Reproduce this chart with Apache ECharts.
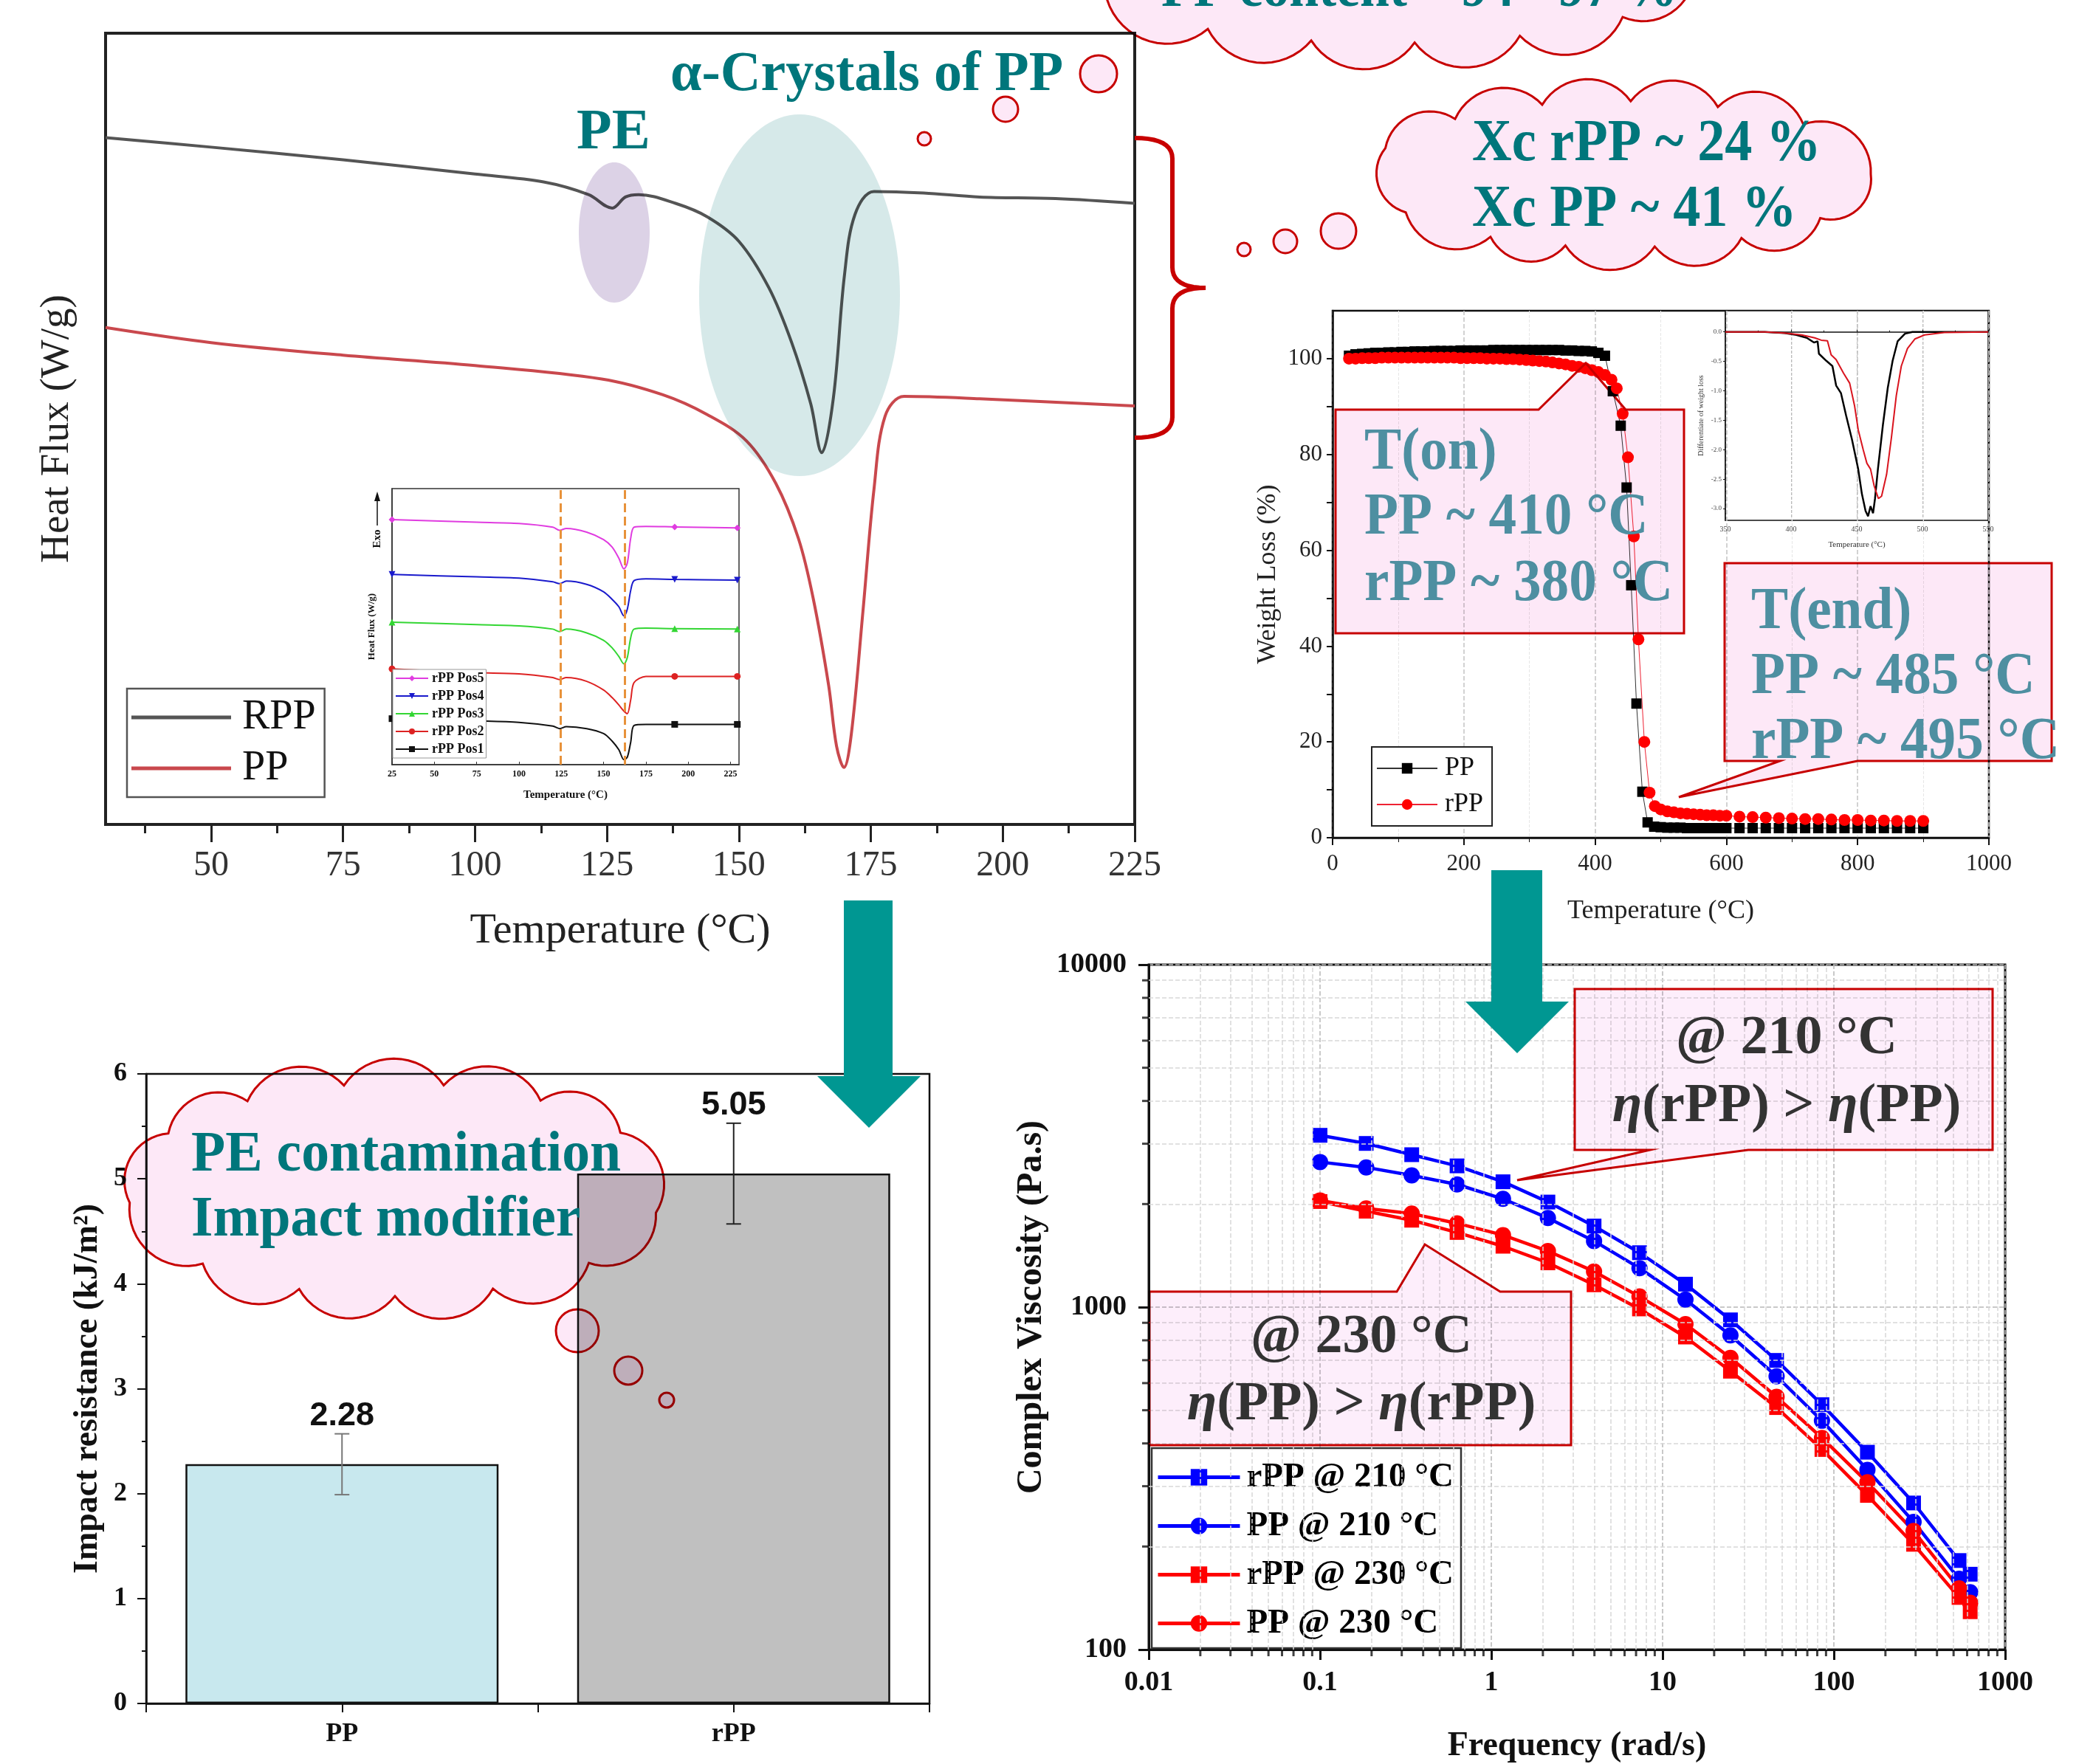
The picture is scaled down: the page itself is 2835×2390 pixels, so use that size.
<!DOCTYPE html>
<html><head><meta charset="utf-8"><title>PP vs rPP</title>
<script src="https://cdn.jsdelivr.net/npm/echarts@6.0.0/dist/echarts.min.js"></script>
<style>html,body{margin:0;padding:0;background:#fff;}#chart{width:2835px;height:2390px;}</style>
</head><body><div id="chart"></div>
<script>
// ---------------- DSC (main) ----------------
const dscRppTemp = [30,50,75,100,113,121.5,126,128.5,131,138,144,150,155.7,160,163.6,165.7,167.9,170,172,175.6,185,195.6,210,225];
const dscRppFlux = [8.68,8.56,8.40,8.22,8.12,7.96,7.79,7.93,7.96,7.85,7.68,7.37,6.78,6.09,5.32,4.70,5.39,6.94,7.71,8.00,7.98,7.93,7.91,7.85];
const dscPpTemp = [30,50,75,100,124,135.6,144,151.4,157,161.3,164.1,167,168.5,169.9,171.3,173.5,175.6,177.7,181.3,195.6,225];
const dscPpFlux = [6.28,6.09,5.93,5.80,5.63,5.43,5.18,4.85,4.31,3.61,2.85,1.76,0.99,0.72,1.14,2.69,4.24,5.16,5.41,5.38,5.29];
const dscTickLabels = [50,75,100,125,150,175,200,225];
const dscMinorTicks = [37.5,62.5,87.5,112.5,137.5,162.5,187.5,212.5];

// ---------------- DSC (inset, rPP positions) ----------------
const insetTemp = [25,75,100,120,124,128,140,150,155,159,162,164,166,168,175,192,229];
const insetPos5 = [9.85,9.75,9.70,9.55,9.42,9.50,9.35,9.05,8.75,8.30,7.87,8.10,9.10,9.55,9.58,9.56,9.52];
const insetPos4 = [7.65,7.55,7.50,7.35,7.28,7.38,7.25,6.95,6.65,6.35,5.98,6.25,7.00,7.40,7.47,7.45,7.42];
const insetPos3 = [5.73,5.63,5.58,5.45,5.35,5.45,5.30,5.00,4.70,4.35,4.05,4.30,5.10,5.45,5.49,5.47,5.45];
const insetPos2 = [3.85,3.70,3.65,3.50,3.42,3.50,3.35,3.00,2.70,2.40,2.15,2.05,2.60,3.30,3.55,3.55,3.55];
const insetPos1 = [1.85,1.76,1.70,1.55,1.45,1.53,1.45,1.25,0.95,0.60,0.20,0.30,0.90,1.58,1.62,1.62,1.62];
const insetMarkerIdx = [0,15,16];
const insetTickLabels = [25,50,75,100,125,150,175,200,225];
const insetPeakTemps = [124.5,162.5];

// ---------------- TGA ----------------
const tgaPpTemp = [25,35,45,55,65,75,85,95,105,115,125,135,145,155,165,175,185,195,205,215,225,235,245,255,265,275,285,295,305,315,325,335,345,355,365,375,385,395,405,415,427,439,448,455,463,472,480,490,500,510,520,530,540,550,560,570,580,590,600,620,640,660,680,700,720,740,760,780,800,820,840,860,880,900];
const tgaPpWeight = [100.6,100.9,101.0,101.1,101.2,101.2,101.3,101.3,101.4,101.4,101.5,101.5,101.5,101.6,101.6,101.6,101.6,101.7,101.7,101.7,101.7,101.7,101.8,101.8,101.8,101.8,101.8,101.8,101.8,101.8,101.8,101.8,101.8,101.7,101.7,101.6,101.6,101.5,101.2,100.6,93.2,86.0,73.1,52.7,28.0,9.6,3.2,2.3,2.2,2.1,2.1,2.1,2.0,2.0,2.0,2.0,2.0,2.0,2.0,2.0,2.0,2.0,2.0,2.0,2.0,2.0,2.0,2.0,2.0,2.0,2.0,2.0,2.0,2.0];
const tgaRppTemp = [25,35,45,55,65,75,85,95,105,115,125,135,145,155,165,175,185,195,205,215,225,235,245,255,265,275,285,295,305,315,325,335,345,355,365,375,385,395,405,415,425,433,442,450,459,466,475,483,491,500,510,520,530,540,550,560,570,580,590,600,620,640,660,680,700,720,740,760,780,800,820,840,860,880,900];
const tgaRppWeight = [100.0,100.0,100.1,100.1,100.1,100.2,100.2,100.2,100.2,100.2,100.2,100.2,100.2,100.2,100.2,100.2,100.2,100.1,100.1,100.1,100.1,100.0,100.0,100.0,99.9,99.9,99.8,99.7,99.6,99.5,99.4,99.2,99.0,98.8,98.5,98.3,98.0,97.6,97.2,96.6,95.6,93.8,88.5,79.4,62.9,41.4,20.0,9.4,6.6,5.9,5.5,5.3,5.1,5.0,4.9,4.8,4.7,4.7,4.6,4.6,4.4,4.3,4.2,4.1,4.0,3.9,3.9,3.8,3.7,3.7,3.6,3.6,3.5,3.5,3.5];
const tgaWeightTicks = [0,20,40,60,80,100];

// ---------------- DTG inset ----------------
const dtgPpTemp = [350,380,395,404,412,417.4,420.2,421.2,426.8,431.5,434.3,438,441.8,446.4,451.1,453.9,456.7,458.6,460.5,462.4,463.9,466.1,469.9,473.6,477.3,481.1,486.7,492.3,520,550];
const dtgPpRate = [0,0,-0.02,-0.05,-0.10,-0.18,-0.16,-0.37,-0.49,-0.58,-0.91,-1.04,-1.41,-1.83,-2.33,-2.75,-3.04,-3.13,-2.96,-3.08,-2.83,-2.33,-1.58,-0.95,-0.49,-0.16,-0.03,0,0,0];
const dtgRppTemp = [350,380,395,408,418,423,427.7,430.5,434.3,439.9,444.6,448.3,451.1,454.9,457.7,460.5,463.3,466.5,468.9,472.7,476.4,480.1,483.9,488.6,494.2,501.7,516.7,550];
const dtgRppRate = [0,0,-0.02,-0.05,-0.10,-0.14,-0.15,-0.39,-0.47,-0.70,-0.87,-1.25,-1.66,-2.00,-2.23,-2.33,-2.62,-2.83,-2.79,-2.42,-1.79,-1.08,-0.58,-0.28,-0.12,-0.05,-0.01,0];
const dtgRateTicks = [0,-0.5,-1.0,-1.5,-2.0,-2.5,-3.0];

// ---------------- Impact ----------------
const impactCats = ['PP','rPP'];
const impactVals = [2.28,5.05];
const impactErrLow = [1.99,4.57];
const impactErrHigh = [2.57,5.53];

// ---------------- Viscosity ----------------
const freq = [0.1,0.186,0.343,0.631,1.17,2.14,3.98,7.33,13.6,24.9,46.3,85.2,157,292,538,625];
const visRpp210 = [3175,3006,2787,2585,2323,2027,1725,1442,1167,918,699,519,377,268,182,166];
const visPp210 = [2653,2559,2425,2282,2071,1820,1560,1300,1052,827,628,466,335,236,161,147];
const visRpp230 = [2034,1906,1794,1652,1506,1347,1162,988,818,650,509,384,282,203,142,129];
const visPp230 = [2049,1942,1875,1757,1623,1458,1271,1074,892,711,547,415,308,222,151,137];

// =====================================================
const SERIF = "'Liberation Serif','Times New Roman',Times,serif";
const SANS = "'Liberation Sans',Arial,Helvetica,sans-serif";
const TEAL = '#00767b', STEEL = '#4e8fa1', PINK = '#fde8f7', EDGE = '#c80000', ARROW = '#009792';
const zip = (a,b) => a.map((v,i)=>[v,b[i]]);
const logMinor = (lo,hi) => { const r=[]; for(let e=lo;e<hi;e++) for(let m=2;m<=9;m++) r.push(+(m*Math.pow(10,e)).toPrecision(3)); return r; };

function cloudPts(cx,cy,rx,ry,fr,k){
  const N=720,P=[],cum=[0];
  for(let i=0;i<=N;i++){const t=2*Math.PI*i/N;P.push([cx+rx*Math.cos(t),cy+ry*Math.sin(t)]);if(i>0)cum.push(cum[i-1]+Math.hypot(P[i][0]-P[i-1][0],P[i][1]-P[i-1][1]));}
  const tot=cum[N];
  const A=fr.map(f=>{const L=f*tot;let j=0;while(j<N&&cum[j+1]<L)j++;return P[j];});
  const out=[];
  for(let i=0;i<A.length;i++){
    const a=A[i],b=A[(i+1)%A.length];
    const c=Math.hypot(b[0]-a[0],b[1]-a[1]),r=k*c;
    const dx=(b[0]-a[0])/c,dy=(b[1]-a[1])/c,nx=dy,ny=-dx;
    const m=[(a[0]+b[0])/2,(a[1]+b[1])/2],h=Math.sqrt(r*r-c*c/4);
    const o=[m[0]-nx*h,m[1]-ny*h];
    const a0=Math.atan2(a[1]-o[1],a[0]-o[0]);let d=Math.atan2(b[1]-o[1],b[0]-o[0])-a0;
    while(d>Math.PI)d-=2*Math.PI;while(d<=-Math.PI)d+=2*Math.PI;
    for(let s=0;s<16;s++){const t=a0+d*s/16;out.push([o[0]+r*Math.cos(t),o[1]+r*Math.sin(t)]);}
  }
  return out;
}
function quad(p0,p1,p2,n){const r=[];for(let i=0;i<=n;i++){const t=i/n,u=1-t;r.push([u*u*p0[0]+2*u*t*p1[0]+t*t*p2[0],u*u*p0[1]+2*u*t*p1[1]+t*t*p2[1]]);}return r;}

const gfx=[];
const ell=(cx,cy,rx,ry,fill)=>gfx.push({type:'ellipse',shape:{cx,cy,rx,ry},style:{fill,blend:'multiply'},z:50,silent:true});
const circ=(cx,cy,r)=>gfx.push({type:'circle',shape:{cx,cy,r},style:{fill:PINK,stroke:EDGE,lineWidth:3,blend:'multiply'},z:50,silent:true});
const poly=(points,extra)=>gfx.push({type:'polygon',shape:{points},style:Object.assign({fill:PINK,stroke:EDGE,lineWidth:3,blend:'multiply'},extra||{}),z:50,silent:true});
const txt=(x,y,text,size,color,extra,el)=>gfx.push(Object.assign({type:'text',x,y,style:Object.assign({text,fill:color,fontSize:size,fontFamily:SERIF,fontWeight:'bold',textAlign:'left',textVerticalAlign:'middle',align:'left',verticalAlign:'middle'},extra||{}),z:60,silent:true},el||{}));

// DSC highlight ellipses
ell(832,315,48,95,'#dcd2e6');
ell(1083,400,136,245,'#d6e9e9');
// thought bubbles near alpha-crystals
circ(1488,100,25); circ(1362,148,17); circ(1252,188,9);
// brace
let brace=[].concat(quad([1537,187],[1588,187],[1588,215],10),[[1588,362]],quad([1588,362],[1588,390],[1633,390],10),quad([1633,390],[1588,390],[1588,418],10),[[1588,565]],quad([1588,565],[1588,593],[1537,593],10));
gfx.push({type:'polyline',shape:{points:brace},style:{stroke:EDGE,lineWidth:6,fill:null},z:50,silent:true});
// clouds
poly(cloudPts(1880,-40,415,98,[0,0.07,0.15,0.23,0.31,0.39,0.47,0.55,0.63,0.71,0.79,0.87,0.94],0.6));
poly(cloudPts(2194,236,340,99,[0,0.065,0.14,0.22,0.30,0.37,0.45,0.53,0.60,0.68,0.76,0.84,0.92],0.6));
circ(1813,313,24); circ(1741,327,16); circ(1685,338,9);
poly(cloudPts(535,1612,362,144,[0.02,0.09,0.17,0.25,0.33,0.41,0.49,0.56,0.63,0.71,0.79,0.87,0.94],0.6));
circ(782,1803,29); circ(851,1857,19); circ(903,1897,10);
// callout boxes
poly([[1809,555],[2084,555],[2148,492],[2202,555],[2281,555],[2281,858],[1809,858]]);
poly([[2336,763],[2779,763],[2779,1031],[2516,1031],[2274,1080],[2411,1031],[2336,1031]]);
poly([[2133,1340],[2699,1340],[2699,1558],[2368,1558],[2055,1599],[2235,1558],[2133,1558]],{fill:'#fdeefb'});
poly([[1557,1750],[1892,1750],[1930,1686],[2032,1750],[2128,1750],[2128,1958],[1557,1958]],{fill:'#fdeefb'});
// arrows
gfx.push({type:'polygon',shape:{points:[[1143,1220],[1209,1220],[1209,1458],[1247,1458],[1177,1528],[1107,1458],[1143,1458]]},style:{fill:ARROW},z:70,silent:true});
gfx.push({type:'polygon',shape:{points:[[2020,1179],[2089,1179],[2089,1357],[2125,1357],[2055,1427],[1985,1357],[2020,1357]]},style:{fill:ARROW},z:70,silent:true});
// annotation texts
const nar={scaleX:0.94};
txt(1573,-12,'PP content ~ 94 - 97 %',78,TEAL,null,{scaleX:0.92});
txt(908,102,'α-Crystals of PP',76,TEAL);
txt(781,181,'PE',78,TEAL);
txt(1994,196,'Xc rPP ~ 24 %',80,TEAL,null,{scaleX:0.93});
txt(1994,285,'Xc PP ~ 41 %',80,TEAL,null,{scaleX:0.93});
txt(1848,614,'T(on)',80,STEEL,null,nar);
txt(1848,702,'PP ~ 410 °C',80,STEEL,null,nar);
txt(1848,792,'rPP ~ 380 °C',80,STEEL,null,nar);
txt(2372,830,'T(end)',80,STEEL,null,nar);
txt(2372,918,'PP ~ 485 °C',80,STEEL,null,nar);
txt(2372,1006,'rPP ~ 495 °C',80,STEEL,null,nar);
txt(259,1566,'PE contamination',78,TEAL,null,{scaleX:0.97});
txt(259,1654,'Impact modifier',78,TEAL,null,{scaleX:0.97});
const rich={i:{fontStyle:'italic',fontWeight:'bold',fontSize:74,fontFamily:SERIF,fill:'#333'}};
txt(2420,1408,'@ 210 °C',74,'#333',{textAlign:'center',align:'center'});
txt(2420,1500,'{i|η}(rPP) > {i|η}(PP)',74,'#333',{textAlign:'center',align:'center',rich});
txt(1844,1813,'@ 230 °C',74,'#333',{textAlign:'center',align:'center'});
txt(1844,1904,'{i|η}(PP) > {i|η}(rPP)',74,'#333',{textAlign:'center',align:'center',rich});
// inset "Exo" arrow
txt(511,730,'Exo',15,'#111',{textAlign:'center',align:'center'},{rotation:Math.PI/2});
gfx.push({type:'line',shape:{x1:511,y1:712,x2:511,y2:676},style:{stroke:'#111',lineWidth:1.5},z:60,silent:true});
gfx.push({type:'polygon',shape:{points:[[511,666],[507,679],[515,679]]},style:{fill:'#111'},z:60,silent:true});

// ---------- helpers for series ----------
const insetSeries = (name,vals,symbol,color)=>({
  name,type:'line',xAxisIndex:2,yAxisIndex:1,symbol,symbolSize:9,showSymbol:true,
  lineStyle:{width:2,color},itemStyle:{color},smooth:0.3,
  data:insetTemp.map((t,i)=>insetMarkerIdx.includes(i)?[t,vals[i]]:{value:[t,vals[i]],symbol:'none'})
});
const xMinor=logMinor(-2,3), yMinor=logMinor(2,4);

const option={
  animation:false,
  backgroundColor:'#fff',
  grid:[
    {left:143,top:45,width:1394,height:1072,show:true,borderColor:'#222',borderWidth:4},
    {left:531,top:662,width:470,height:374,show:true,backgroundColor:'#fff',borderColor:'#333',borderWidth:1.5},
    {left:1805,top:421,width:889,height:714,show:true,borderColor:'#111',borderWidth:2.5},
    {left:2337,top:421,width:356,height:284,show:true,backgroundColor:'#fff',borderColor:'#111',borderWidth:1.5},
    {left:198,top:1455,width:1061,height:853,show:true,borderColor:'#111',borderWidth:2.5},
    {left:1556,top:1307,width:1160,height:933,show:true,borderColor:'#111',borderWidth:3}
  ],
  xAxis:[
    {gridIndex:0,type:'value',min:30,max:225,position:'bottom',
     axisLine:{lineStyle:{color:'#222',width:4}},
     axisTick:{customValues:dscTickLabels,length:24,lineStyle:{width:3,color:'#222'}},
     axisLabel:{customValues:dscTickLabels,fontSize:48,fontFamily:SERIF,color:'#333',margin:32},
     splitLine:{show:false},
     name:'Temperature (°C)',nameLocation:'middle',nameGap:116,nameTextStyle:{fontSize:58,fontFamily:SERIF,color:'#222'}},
    {gridIndex:0,type:'value',min:30,max:225,position:'bottom',offset:0,
     axisLine:{show:false},axisTick:{customValues:dscMinorTicks,length:12,lineStyle:{width:3,color:'#222'}},
     axisLabel:{show:false},splitLine:{show:false}},
    {gridIndex:1,type:'value',min:25,max:230,
     axisLine:{lineStyle:{color:'#333',width:1.5}},
     axisTick:{customValues:insetTickLabels,length:4,inside:true},
     axisLabel:{customValues:insetTickLabels,fontSize:12,fontWeight:'bold',fontFamily:SERIF,color:'#111',margin:7},
     splitLine:{show:false},
     name:'Temperature (°C)',nameLocation:'middle',nameGap:34,nameTextStyle:{fontSize:15,fontWeight:'bold',fontFamily:SERIF,color:'#111'}},
    {gridIndex:2,type:'value',min:0,max:1000,interval:200,
     axisLine:{lineStyle:{color:'#111',width:2.5}},
     axisTick:{length:10,lineStyle:{width:2}},minorTick:{show:true,splitNumber:2,length:6},
     axisLabel:{fontSize:31,fontFamily:SERIF,color:'#222',margin:20,formatter:v=>String(v)},
     splitLine:{show:true,lineStyle:{type:'dashed',color:'#c4c4c4',width:1.5}},
     minorSplitLine:{show:true,lineStyle:{type:'dashed',color:'#e6e6e6'}},
     name:'Temperature (°C)',nameLocation:'middle',nameGap:82,nameTextStyle:{fontSize:36,fontFamily:SERIF,color:'#222'}},
    {gridIndex:3,type:'value',min:350,max:550,interval:50,
     axisLine:{lineStyle:{color:'#111',width:1.5}},
     axisTick:{length:3,inside:true},minorTick:{show:true,splitNumber:2,length:2},
     axisLabel:{fontSize:10,fontFamily:SERIF,color:'#444',margin:7},
     splitLine:{show:true,lineStyle:{type:'dashed',color:'#bbb'}},
     name:'Temperature (°C)',nameLocation:'middle',nameGap:28,nameTextStyle:{fontSize:11,fontFamily:SERIF,color:'#333'}},
    {gridIndex:4,type:'value',min:0,max:2,interval:0.5,
     axisLine:{lineStyle:{color:'#111',width:2.5}},
     axisTick:{length:12,lineStyle:{width:2}},
     axisLabel:{fontSize:36,fontWeight:'bold',fontFamily:SERIF,color:'#111',margin:24,
       formatter:v=>{const i=v-0.5;return (Number.isInteger(i)&&impactCats[i])?impactCats[i]:'';}},
     splitLine:{show:false}},
    {gridIndex:5,type:'log',logBase:10,min:0.01,max:1000,
     axisLine:{lineStyle:{color:'#111',width:3}},
     axisTick:{length:14,lineStyle:{width:3}},
     axisLabel:{fontSize:38,fontWeight:'bold',fontFamily:SERIF,color:'#111',margin:26,formatter:v=>String(+(+v).toPrecision(6))},
     splitLine:{show:true,lineStyle:{type:'dashed',color:'#b8b8b8',width:1.5}},
     name:'Frequency (rad/s)',nameLocation:'middle',nameGap:108,nameTextStyle:{fontSize:46,fontWeight:'bold',fontFamily:SERIF,color:'#111'}}
  ],
  yAxis:[
    {gridIndex:0,type:'value',min:0,max:10,
     axisLine:{lineStyle:{color:'#222',width:4}},axisTick:{show:false},axisLabel:{show:false},splitLine:{show:false},
     name:'Heat Flux (W/g)',nameLocation:'middle',nameGap:38,nameTextStyle:{fontSize:55,fontFamily:SERIF,color:'#222'}},
    {gridIndex:1,type:'value',min:0,max:11.1,
     axisLine:{lineStyle:{color:'#333',width:1.5}},axisTick:{show:false},axisLabel:{show:false},splitLine:{show:false},
     name:'Heat Flux (W/g)',nameLocation:'middle',nameGap:21,nameTextStyle:{fontSize:13,fontWeight:'bold',fontFamily:SERIF,color:'#111'}},
    {gridIndex:2,type:'value',min:0,max:110,
     axisLine:{lineStyle:{color:'#111',width:2.5}},
     axisTick:{customValues:[0,10,20,30,40,50,60,70,80,90,100],length:8,lineStyle:{width:2}},
     axisLabel:{customValues:tgaWeightTicks,fontSize:31,fontFamily:SERIF,color:'#222',margin:14},
     splitLine:{show:false},
     name:'Weight Loss (%)',nameLocation:'middle',nameGap:69,nameTextStyle:{fontSize:36,fontFamily:SERIF,color:'#222'}},
    {gridIndex:3,type:'value',min:-3.2,max:0.36,
     axisLine:{lineStyle:{color:'#111',width:1.5}},
     axisTick:{customValues:dtgRateTicks,length:3},
     axisLabel:{customValues:dtgRateTicks,fontSize:9,fontFamily:SERIF,color:'#444',margin:5,formatter:v=>(+v).toFixed(1)},
     splitLine:{show:false},
     name:'Differentiate of weight loss',nameLocation:'middle',nameGap:28,nameTextStyle:{fontSize:10,fontFamily:SERIF,color:'#333'}},
    {gridIndex:4,type:'value',min:0,max:6,interval:1,
     axisLine:{lineStyle:{color:'#111',width:2.5}},
     axisTick:{length:12,lineStyle:{width:2}},minorTick:{show:true,splitNumber:2,length:6,lineStyle:{width:2,color:'#111'}},
     axisLabel:{fontSize:36,fontWeight:'bold',fontFamily:SERIF,color:'#111',margin:26},
     splitLine:{show:false},
     name:'Impact resistance (kJ/m²)',nameLocation:'middle',nameGap:56,nameTextStyle:{fontSize:46,fontWeight:'bold',fontFamily:SERIF,color:'#111'}},
    {gridIndex:5,type:'log',logBase:10,min:100,max:10000,
     axisLine:{lineStyle:{color:'#111',width:3}},
     axisTick:{length:14,lineStyle:{width:3}},
     axisLabel:{fontSize:38,fontWeight:'bold',fontFamily:SERIF,color:'#111',margin:30,formatter:v=>String(Math.round(v))},
     splitLine:{show:true,lineStyle:{type:'dashed',color:'#b8b8b8',width:1.5}},
     name:'Complex Viscosity (Pa.s)',nameLocation:'middle',nameGap:134,nameTextStyle:{fontSize:48,fontWeight:'bold',fontFamily:SERIF,color:'#111'}}
  ],
  legend:[
    {data:[{name:'RPP',icon:'rect'},{name:'PP ',icon:'rect'}],formatter:n=>n.trim(),left:172,top:933,orient:'vertical',selectedMode:false,
     padding:[11,12,11,6],itemGap:13,itemWidth:135,itemHeight:5,borderColor:'#555',borderWidth:2.5,backgroundColor:'#fff',
     textStyle:{fontSize:56,fontFamily:SERIF,color:'#111',padding:[0,0,0,10]}},
    {data:['rPP Pos5','rPP Pos4','rPP Pos3','rPP Pos2','rPP Pos1'],left:532,top:907,orient:'vertical',selectedMode:false,
     padding:[3,3,3,3],itemGap:6,itemWidth:44,itemHeight:10,borderColor:'#999',borderWidth:1,backgroundColor:'#fff',
     textStyle:{fontSize:18,fontWeight:'bold',fontFamily:SERIF,color:'#111'}},
    {data:['PP','rPP'],left:1858,top:1012,orient:'vertical',selectedMode:false,
     padding:[11,12,11,6],itemGap:13,itemWidth:82,itemHeight:18,borderColor:'#222',borderWidth:2,backgroundColor:'#fff',
     textStyle:{fontSize:36,fontFamily:SERIF,color:'#111',padding:[0,0,0,5]}},
    {data:['rPP @ 210 °C','PP @ 210 °C','rPP @ 230 °C','PP @ 230 °C'],left:1560,top:1962,orient:'vertical',selectedMode:false,
     padding:[16,10,10,6],itemGap:19,itemWidth:111,itemHeight:28,borderColor:'#333',borderWidth:2.5,backgroundColor:'#fff',
     lineStyle:{width:5},
     textStyle:{fontSize:47,fontWeight:'bold',fontFamily:SERIF,color:'#000',padding:[0,0,0,4]}}
  ],
  graphic:{elements:gfx},
  series:[
    // DSC main
    {name:'RPP',type:'line',xAxisIndex:0,yAxisIndex:0,data:zip(dscRppTemp,dscRppFlux),showSymbol:false,symbol:'none',smooth:0.35,
     lineStyle:{color:'#555555',width:4},itemStyle:{color:'#555555'}},
    {name:'PP ',type:'line',xAxisIndex:0,yAxisIndex:0,data:zip(dscPpTemp,dscPpFlux),showSymbol:false,symbol:'none',smooth:0.35,
     lineStyle:{color:'#c9484d',width:4},itemStyle:{color:'#c9484d'}},
    // DSC inset
    insetSeries('rPP Pos5',insetPos5,'diamond','#e03ce0'),
    insetSeries('rPP Pos4',insetPos4,'path://M0,0 L10,0 L5,9 Z','#1a1acc'),
    insetSeries('rPP Pos3',insetPos3,'triangle','#33d633'),
    Object.assign(insetSeries('rPP Pos2',insetPos2,'circle','#dd2222'),{markLine:{silent:true,symbol:['none','none'],label:{show:false},
      lineStyle:{color:'#e8923a',type:'dashed',width:3},data:insetPeakTemps.map(t=>({xAxis:t}))}}),
    insetSeries('rPP Pos1',insetPos1,'rect','#111111'),
    // TGA
    {name:'PP',type:'line',xAxisIndex:3,yAxisIndex:2,data:zip(tgaPpTemp,tgaPpWeight),symbol:'rect',symbolSize:14,
     lineStyle:{color:'#333',width:1},itemStyle:{color:'#000'}},
    {name:'rPP',type:'line',xAxisIndex:3,yAxisIndex:2,data:zip(tgaRppTemp,tgaRppWeight),symbol:'circle',symbolSize:16,
     lineStyle:{color:'#e23',width:1},itemStyle:{color:'#ff0000'}},
    // DTG
    {name:'DTG PP',type:'line',xAxisIndex:4,yAxisIndex:3,data:zip(dtgPpTemp,dtgPpRate),showSymbol:false,symbol:'none',
     lineStyle:{color:'#000',width:2.5}},
    {name:'DTG rPP',type:'line',xAxisIndex:4,yAxisIndex:3,data:zip(dtgRppTemp,dtgRppRate),showSymbol:false,symbol:'none',
     lineStyle:{color:'#d9141e',width:2}},
    // Impact bars
    {name:'Impact',type:'bar',xAxisIndex:5,yAxisIndex:4,barWidth:424,
     data:impactVals.map((v,i)=>({value:[i+0.5,v],itemStyle:{color:['#c8e8ee','#c0c0c0'][i],borderColor:'#111',borderWidth:2.5}}))},
    {name:'Impact error',type:'custom',xAxisIndex:5,yAxisIndex:4,z:10,
     data:impactVals.map((v,i)=>[i+0.5,impactErrLow[i],impactErrHigh[i],v]),
     renderItem:(params,api)=>{
       const x=api.value(0),lo=api.coord([x,api.value(1)]),hi=api.coord([x,api.value(2)]);
       const col=['#777','#222'][params.dataIndex];
       const st={stroke:col,lineWidth:2};
       return {type:'group',children:[
         {type:'line',shape:{x1:lo[0],y1:lo[1],x2:hi[0],y2:hi[1]},style:st},
         {type:'line',shape:{x1:lo[0]-10,y1:lo[1],x2:lo[0]+10,y2:lo[1]},style:st},
         {type:'line',shape:{x1:hi[0]-10,y1:hi[1],x2:hi[0]+10,y2:hi[1]},style:st},
         {type:'text',x:hi[0],y:hi[1]-2,style:{text:api.value(3).toFixed(2),fill:'#111',fontSize:45,fontWeight:'bold',fontFamily:SANS,
           textAlign:'center',align:'center',textVerticalAlign:'bottom',verticalAlign:'bottom'}}
       ]};
     }},
    // Viscosity
    {name:'rPP @ 210 °C',type:'line',xAxisIndex:6,yAxisIndex:5,data:zip(freq,visRpp210),symbol:'rect',symbolSize:20,
     lineStyle:{color:'#0000ff',width:4.5},itemStyle:{color:'#0000ff'}},
    {name:'PP @ 210 °C',type:'line',xAxisIndex:6,yAxisIndex:5,data:zip(freq,visPp210),symbol:'circle',symbolSize:22,
     lineStyle:{color:'#0000ff',width:4.5},itemStyle:{color:'#0000ff'}},
    {name:'rPP @ 230 °C',type:'line',xAxisIndex:6,yAxisIndex:5,data:zip(freq,visRpp230),symbol:'rect',symbolSize:20,
     lineStyle:{color:'#ff0000',width:4.5},itemStyle:{color:'#ff0000'}},
    {name:'PP @ 230 °C',type:'line',xAxisIndex:6,yAxisIndex:5,data:zip(freq,visPp230),symbol:'circle',symbolSize:22,
     lineStyle:{color:'#ff0000',width:4.5},itemStyle:{color:'#ff0000'}},
    // log minor ticks + minor grid
    {name:'xminor',type:'scatter',xAxisIndex:6,yAxisIndex:5,clip:false,silent:true,z:1,
     symbol:'rect',symbolSize:[3,9],symbolOffset:[0,4.5],itemStyle:{color:'#111'},
     data:xMinor.map(v=>[v,100]),
     markLine:{silent:true,symbol:['none','none'],label:{show:false},lineStyle:{color:'#d8d8d8',type:'dashed',width:1.5},
       data:xMinor.map(v=>({xAxis:v})).concat(yMinor.map(v=>({yAxis:v})))}},
    {name:'yminor',type:'scatter',xAxisIndex:6,yAxisIndex:5,clip:false,silent:true,z:1,
     symbol:'rect',symbolSize:[9,3],symbolOffset:[-4.5,0],itemStyle:{color:'#111'},
     data:yMinor.map(v=>[0.01,v])}
  ]
};
const chart=echarts.init(document.getElementById('chart'),null,{renderer:'canvas'});
chart.setOption(option);
</script></body></html>
